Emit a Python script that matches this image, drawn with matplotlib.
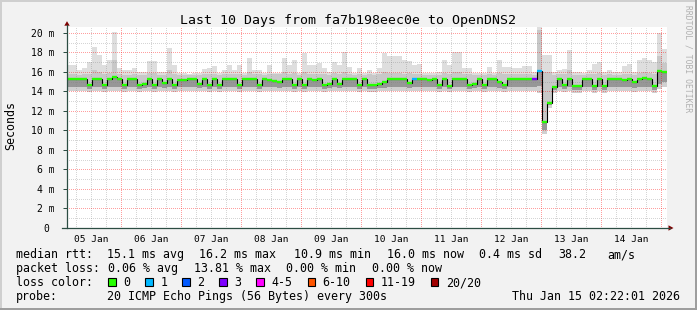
#!/usr/bin/python
# SmokePing style latency chart: last 10 days, fa7b198eec0e -> OpenDNS2

import numpy as np
import matplotlib
matplotlib.use("Agg")
import matplotlib.pyplot as plt
from matplotlib.lines import Line2D
from matplotlib.patches import Polygon, Rectangle
from matplotlib.transforms import IdentityTransform

# Options
W, H = 697, 310
mono = "DejaVu Sans Mono"
back = "#f2f2f2"

# Data -- 2 hour bins, first bin starts Jan 5 02:22, x is days since Jan 5 00:00
t_start = (2 + 22 / 60.0) / 24.0
day_labels = ["05 Jan", "06 Jan", "07 Jan", "08 Jan", "09 Jan",
              "10 Jan", "11 Jan", "12 Jan", "13 Jan", "14 Jan"]

# median rtt (ms)
med = [15.25, 15.25, 15.25, 15.25, 14.67, 15.3, 15.3, 14.67, 15.25, 15.45,
       15.3, 14.67, 15.25, 15.25, 14.7, 14.8, 15.25, 14.67, 15.25, 14.85,
       15.25, 14.67, 15.2, 15.2, 15.25, 15.25, 14.8, 15.25, 14.7, 15.25,
       14.67, 15.25, 15.3, 15.25, 14.67, 15.25, 15.25, 15.3, 14.7, 15.25,
       15.2, 15.1, 14.95, 15.25, 15.25, 14.7, 15.25, 14.7, 15.25, 15.2,
       15.25, 14.7, 14.75, 15.25, 14.75, 15.25, 15.3, 15.25, 14.7, 15.25,
       14.7, 14.7, 14.8, 15.0, 15.25, 15.3, 15.25, 15.25, 14.85, 15.25,
       15.25, 15.25, 15.2, 15.25, 14.7, 15.25, 14.6, 15.25, 15.25, 15.3,
       14.7, 14.8, 15.25, 14.7, 15.25, 15.25, 15.0, 14.7, 15.25, 15.25,
       15.25, 15.25, 15.25, 15.25, 16.1, 10.9, 12.8, 14.5, 15.25, 14.7,
       15.25, 14.6, 14.6, 15.25, 15.25, 14.6, 15.25, 14.6, 15.25, 15.25,
       15.25, 15.2, 15.25, 15.0, 15.25, 15.4, 15.25, 14.6, 16.1, 16.0]
# smoke: max ping, upper band, lower band, min ping (ms)
hi = [16.7, 16.7, 16.2, 16.4, 17.0, 18.6, 17.7, 16.7, 17.2, 20.1,
      16.4, 16.2, 16.2, 16.4, 16.0, 16.0, 17.1, 17.1, 16.0, 16.0,
      18.5, 16.7, 15.9, 15.9, 15.8, 15.9, 15.9, 16.3, 16.4, 16.6,
      15.9, 16.2, 16.7, 16.2, 16.7, 15.9, 17.4, 16.2, 16.2, 15.9,
      16.7, 15.9, 15.9, 17.4, 16.7, 17.2, 15.9, 17.9, 16.7, 16.7,
      16.9, 16.4, 16.0, 17.0, 16.7, 18.0, 16.5, 15.9, 16.4, 15.9,
      16.2, 15.9, 16.4, 17.9, 17.6, 17.6, 17.6, 17.2, 17.1, 16.7,
      16.8, 15.9, 15.9, 15.9, 16.0, 17.2, 16.7, 18.0, 18.0, 16.4,
      16.4, 15.9, 15.9, 15.9, 16.5, 15.9, 17.2, 16.5, 16.5, 16.4,
      16.4, 16.6, 16.6, 16.0, 20.9, 17.7, 17.7, 16.0, 16.2, 16.3,
      18.3, 16.0, 16.0, 15.9, 16.2, 16.8, 17.0, 16.0, 16.2, 16.0,
      16.0, 16.6, 16.8, 16.0, 17.2, 17.4, 17.2, 17.0, 20.0, 18.4]
up = [15.8, 15.8, 15.7, 15.8, 15.8, 16.2, 16.0, 15.8, 15.9, 17.2,
      15.8, 15.7, 15.7, 15.8, 15.7, 15.7, 15.9, 15.9, 15.7, 15.7,
      16.2, 15.8, 15.7, 15.7, 15.7, 15.7, 15.7, 15.8, 15.8, 15.8,
      15.7, 15.8, 15.8, 15.8, 15.8, 15.7, 16.0, 15.8, 15.8, 15.7,
      15.8, 15.8, 15.8, 16.0, 15.8, 15.9, 15.7, 16.0, 15.8, 15.8,
      15.8, 15.8, 15.7, 15.9, 15.8, 16.0, 15.8, 15.7, 15.8, 15.7,
      15.8, 15.7, 15.8, 16.0, 15.9, 15.9, 15.9, 15.8, 15.9, 15.8,
      15.8, 15.7, 15.7, 15.7, 15.7, 15.9, 15.8, 16.0, 16.0, 15.8,
      15.8, 15.7, 15.7, 15.7, 15.8, 15.7, 15.9, 15.8, 15.8, 15.8,
      15.8, 15.8, 15.8, 15.7, 20.3, 16.0, 16.0, 15.7, 15.8, 15.8,
      16.2, 15.7, 15.7, 15.7, 15.8, 15.8, 15.9, 15.7, 15.8, 15.7,
      15.7, 15.8, 15.8, 15.7, 15.9, 16.0, 15.9, 15.8, 17.6, 16.9]
dn = [14.5, 14.5, 14.5, 14.5, 14.3, 14.5, 14.5, 14.3, 14.5, 14.5,
      14.5, 14.3, 14.5, 14.5, 14.3, 14.4, 14.5, 14.3, 14.5, 14.4,
      14.5, 14.3, 14.5, 14.5, 14.5, 14.5, 14.4, 14.5, 14.3, 14.5,
      14.3, 14.5, 14.5, 14.5, 14.3, 14.5, 14.5, 14.5, 14.3, 14.5,
      14.5, 14.5, 14.4, 14.5, 14.5, 14.3, 14.5, 14.3, 14.5, 14.5,
      14.5, 14.3, 14.4, 14.5, 14.4, 14.5, 14.5, 14.5, 14.3, 14.5,
      14.3, 14.3, 14.4, 14.4, 14.5, 14.5, 14.5, 14.5, 14.4, 14.5,
      14.5, 14.5, 14.5, 14.5, 14.3, 14.5, 14.3, 14.5, 14.5, 14.5,
      14.3, 14.4, 14.5, 14.3, 14.5, 14.5, 14.4, 14.3, 14.5, 14.5,
      14.5, 14.5, 14.5, 14.5, 14.6, 10.0, 12.6, 14.2, 14.5, 14.3,
      14.5, 14.2, 14.2, 14.5, 14.5, 14.2, 14.5, 14.2, 14.5, 14.5,
      14.5, 14.5, 14.5, 14.4, 14.5, 14.5, 14.5, 14.2, 14.8, 15.0]
lo = [14.1, 14.0, 14.1, 14.1, 13.9, 14.0, 14.0, 13.9, 14.1, 14.0,
      14.1, 13.9, 14.1, 14.1, 13.9, 14.0, 14.1, 13.9, 14.1, 14.0,
      14.0, 13.9, 14.1, 14.1, 14.1, 14.1, 14.0, 14.1, 13.9, 14.1,
      13.9, 14.1, 14.1, 14.1, 13.9, 14.1, 14.1, 14.1, 13.9, 14.1,
      14.1, 14.0, 14.0, 14.1, 14.1, 13.9, 14.1, 13.9, 14.1, 14.1,
      14.1, 13.9, 14.0, 14.1, 14.0, 14.1, 14.1, 14.1, 13.9, 14.1,
      13.9, 13.9, 14.0, 14.0, 14.1, 14.1, 14.1, 14.1, 14.0, 14.1,
      14.1, 14.1, 14.1, 14.1, 13.9, 14.1, 13.9, 14.1, 14.1, 14.1,
      13.9, 14.0, 14.1, 13.9, 14.1, 14.1, 14.0, 13.9, 14.1, 14.1,
      14.1, 14.1, 14.1, 14.1, 13.8, 9.6, 12.3, 13.8, 14.0, 13.9,
      14.0, 13.8, 13.8, 14.0, 14.0, 13.8, 14.0, 13.8, 14.0, 14.0,
      14.0, 14.0, 14.0, 13.9, 14.0, 14.0, 14.0, 13.8, 14.3, 14.5]
# loss bucket per bin (index into loss_labels)
loss = [0] * 69 + [1] + [0] * 23 + [3, 1] + [0] * 25

loss_labels = ["0", "1", "2", "3", "4-5", "6-10", "11-19", "20/20"]
loss_colors = ["#26ff00", "#00b8ff", "#0059ff", "#7e00ff",
               "#ff00ff", "#ff5500", "#ff0000", "#a10000"]

rtt_stats = ["15.1 ms avg", "16.2 ms max", "10.9 ms min", "16.0 ms now",
             "0.4 ms sd", "38.2", "am/s"]
loss_stats = ["0.06 % avg", "13.81 % max", "0.00 % min", "0.00 % now"]
probe_text = "20 ICMP Echo Pings (56 Bytes) every 300s"
stamp = "Thu Jan 15 02:22:01 2026"
title = "Last 10 Days from fa7b198eec0e to OpenDNS2"

edges = t_start + np.arange(len(med) + 1) / 12.0


def px(x, y):
    # image pixel (top-left origin) -> figure fraction
    return x / W, 1 - y / H


fig = plt.figure(figsize=(W / 100.0, H / 100.0), dpi=100, facecolor=back)
x0, y0 = px(67, 228)
ax = fig.add_axes([x0, y0, 600.0 / W, 201.0 / H])
ax.set_facecolor("white")
for s in ax.spines.values():
    s.set_visible(False)
ax.set_xlim(t_start, t_start + 10)
ax.set_ylim(0, 20.615)
ax.set_xticks([])
ax.set_yticks(range(0, 21, 2))
ax.tick_params(axis="y", length=3, width=0.72, color="#2c4d43",
               labelleft=False)

# smoke
ax.stairs(hi, edges, baseline=lo, fill=True, color="#dedede", lw=0, zorder=1)
ax.stairs(dn, edges, baseline=lo, fill=True, color="#d0d0d0", lw=0, zorder=1.05)
ax.stairs(up, edges, baseline=dn, fill=True, color="#c8c8c8", lw=0, zorder=1.1)
ax.stairs(med, edges, baseline=dn, fill=True, color="#979797", lw=0, zorder=1.2)

# grid: 1px on / 1px off dots (offset 0.5 keeps them on whole pixels)
dot = (0.5, (1, 1))
minor_c = (0.5, 0.5, 0.5, 0.33)
major_c = (1, 0, 0, 0.38)
for q in np.arange(0.25, 10.2, 0.25):
    if q <= t_start or q >= t_start + 10:
        continue
    major = abs(q - round(q)) < 1e-6
    ax.axvline(q, color=major_c if major else minor_c, lw=0.72, ls=dot,
               zorder=2)
for v in range(1, 21):
    ax.axhline(v, color=major_c if v % 2 == 0 else minor_c, lw=0.72, ls=dot,
               zorder=2)

# median, coloured by loss
ax.stairs(med, edges, baseline=None, color="black", lw=0.8, zorder=3)
ax.hlines(med, edges[:-1], edges[1:], colors=[loss_colors[k] for k in loss],
          lw=1.7, zorder=4)

# axes with arrows
ident = IdentityTransform()
ax_col = "#2c4d43"
fig.add_artist(Line2D([67, 67], [H - 228, H - 25], color=ax_col, lw=0.9,
                      transform=ident))
fig.add_artist(Line2D([62, 670], [H - 228, H - 228], color=ax_col, lw=0.9,
                      transform=ident))
fig.add_artist(Polygon([[64.3, H - 25.7], [69.7, H - 25.7], [67, H - 21.2]],
                       closed=True, color="#7f0000", lw=0, transform=ident))
fig.add_artist(Polygon([[668.5, H - 225.3], [668.5, H - 230.7], [673.5, H - 228]],
                       closed=True, color="#7f0000", lw=0, transform=ident))

# y labels
for v in range(2, 21, 2):
    ax.annotate("%d m" % v, xy=(55.0 / W, v), xycoords=("figure fraction", "data"),
                xytext=(0, -3.6), textcoords="offset pixels", ha="right",
                va="baseline", family=mono, size=7.0, color="black")
ax.annotate("0", xy=(46.0 / W, 0), xycoords=("figure fraction", "data"),
            xytext=(0, -3.6), textcoords="offset pixels", ha="center",
            va="baseline", family=mono, size=7.0, color="black")

# day labels at noon
for i, lab in enumerate(day_labels):
    ax.annotate(lab, xy=(i + 0.5, 1 - 241.5 / H),
                xycoords=("data", "figure fraction"), ha="center",
                va="baseline", family=mono, size=6.8, color="black")

# title, unit, watermark
fig.text(*px(348.5, 24), title, ha="center", va="baseline", family=mono,
         size=9.5, color="black")
fig.text(*px(10.5, 126), "Seconds", ha="center", va="center", rotation=90,
         family=mono, size=8.4, color="black")
fig.text(*px(688, 5), "RRDTOOL / TOBI OETIKER", ha="center", va="top",
         rotation=270, family=mono, size=5.8, color="#b0b0b0")

# legend
leg = dict(va="baseline", ha="left", family=mono, size=8.4, color="black")
fig.text(*px(16, 258), "median rtt:", **leg)
for xx, s in zip([107.3, 199.3, 293.9, 386.8, 479.3, 558.2, 607.1], rtt_stats):
    fig.text(*px(xx, 258), s, **leg)
fig.text(*px(16, 272), "packet loss:", **leg)
for xx, s in zip([107.6, 193.6, 286.4, 372.1], loss_stats):
    fig.text(*px(xx, 272), s, **leg)
fig.text(*px(16, 286), "loss color:", **leg)
cw = 7.03
xx = 108.3
for lab, col in zip(loss_labels, loss_colors):
    bx, by = px(xx, 285.8)
    fig.add_artist(Rectangle((bx, by), 7.4 / W, 8.0 / H, facecolor=col,
                             edgecolor="black", lw=0.8,
                             transform=fig.transFigure))
    fig.text(*px(xx + 15, 286), lab, **leg)
    xx = xx + 15 + len(lab) * cw + 15
fig.text(*px(16, 300), "probe:", **leg)
fig.text(*px(107.3, 300), probe_text, **leg)
fig.text(*px(680.5, 300), stamp, va="baseline", ha="right", family=mono,
         size=8.4, color="black")

# frame shading
fig.add_artist(Rectangle((0, H - 2), W, 2, color="#cfcfcf", lw=0, transform=ident))
fig.add_artist(Rectangle((0, 0), 2, H, color="#cfcfcf", lw=0, transform=ident))
fig.add_artist(Rectangle((W - 2, 0), 2, H, color="#9e9e9e", lw=0, transform=ident))
fig.add_artist(Rectangle((0, 0), W, 2, color="#9e9e9e", lw=0, transform=ident))

fig.savefig("out.png", dpi=100, facecolor=back)
plt.close()
